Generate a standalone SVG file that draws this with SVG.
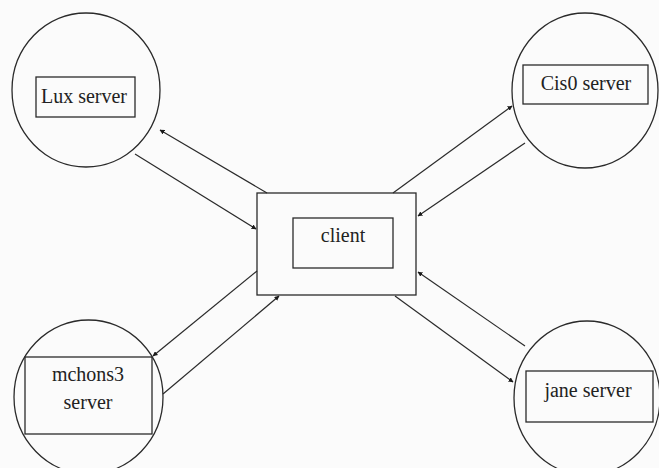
<svg xmlns="http://www.w3.org/2000/svg" width="659" height="468" viewBox="0 0 659 468">
<style>
.sh{fill:none;stroke:#2a2a2a;stroke-width:1.3}
.c{fill:none;stroke:#2a2a2a;stroke-width:1.2;marker-end:url(#ah)}
text{font-family:"Liberation Serif","Times New Roman",serif;font-size:20px;fill:#222;text-anchor:middle}
</style>
<defs>
<marker id="ah" viewBox="0 0 10 10" refX="9" refY="5" markerWidth="5" markerHeight="5" markerUnits="userSpaceOnUse" orient="auto">
<path d="M0,0 L10,5 L0,10 z" fill="#1a1a1a"/>
</marker>
</defs>
<rect width="659" height="468" fill="#fbfbfb"/>
<g id="lux">
<ellipse class="sh" cx="86" cy="90" rx="74" ry="77"/>
<rect class="sh" x="36" y="77" width="99" height="40"/>
<text x="84" y="103">Lux server</text>
</g>
<g id="cis0">
<ellipse class="sh" cx="585" cy="90.5" rx="73" ry="77.5"/>
<rect class="sh" x="523" y="65" width="125" height="39"/>
<text x="586" y="90">Cis0 server</text>
</g>
<g id="client">
<rect class="sh" x="257" y="193" width="159" height="102"/>
<rect class="sh" x="293" y="218" width="100" height="50"/>
<text x="343" y="242">client</text>
</g>
<g id="mchons3">
<ellipse class="sh" cx="88.5" cy="397" rx="74.5" ry="77"/>
<rect class="sh" x="25" y="357" width="127" height="77"/>
<text x="88" y="381">mchons3</text>
<text x="88" y="409">server</text>
</g>
<g id="jane">
<ellipse class="sh" cx="587" cy="398" rx="73" ry="77"/>
<rect class="sh" x="526" y="371" width="127" height="51"/>
<text x="588" y="397">jane server</text>
</g>
<g id="connectors">
<line class="c" x1="267" y1="193" x2="160" y2="130"/>
<line class="c" x1="135" y1="154" x2="256" y2="229"/>
<line class="c" x1="393" y1="193" x2="512" y2="106"/>
<line class="c" x1="525" y1="143" x2="418" y2="216"/>
<line class="c" x1="257" y1="271" x2="153" y2="356"/>
<line class="c" x1="163" y1="394" x2="279" y2="296"/>
<line class="c" x1="525" y1="346" x2="418" y2="272"/>
<line class="c" x1="395" y1="296" x2="513" y2="382"/>
</g>
</svg>
